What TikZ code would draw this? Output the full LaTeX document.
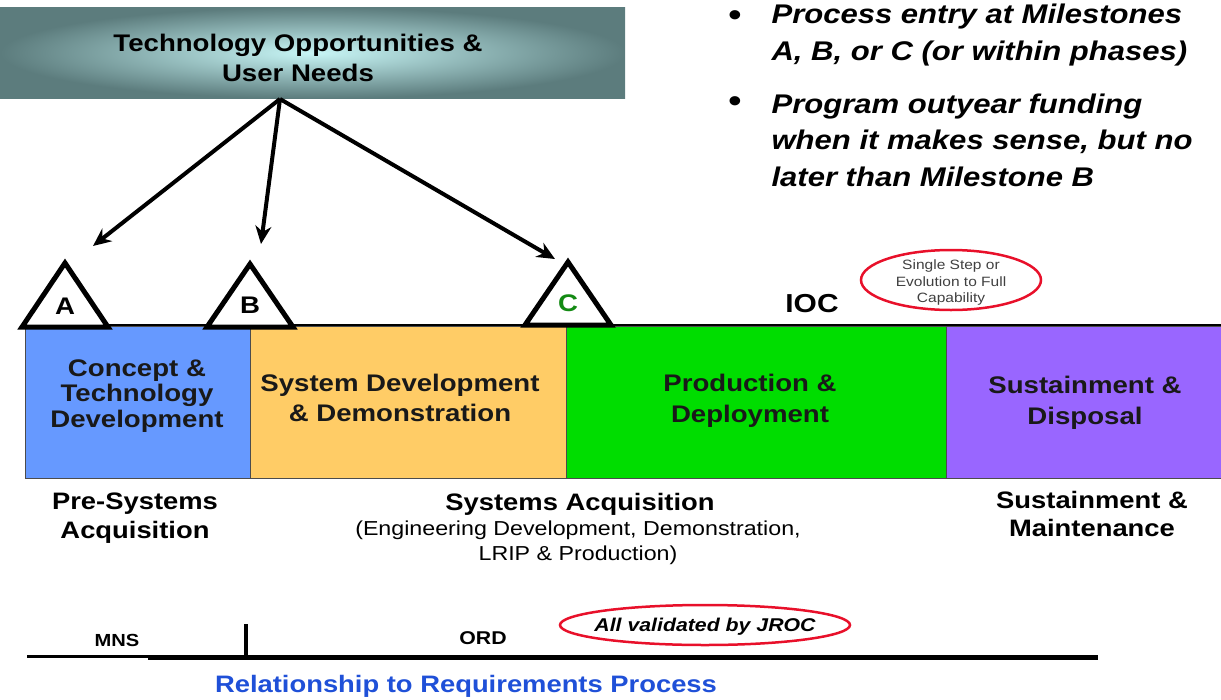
\documentclass[tikz,border=0pt]{standalone}
\usepackage{fontspec}
\setmainfont[FakeStretch=1.15]{Liberation Sans}
\usetikzlibrary{arrows.meta,shapes.geometric}
\definecolor{phblue}{HTML}{6699FF}
\definecolor{phorange}{HTML}{FFCC66}
\definecolor{phgreen}{HTML}{00DD00}
\definecolor{phpurple}{HTML}{9966FF}
\definecolor{boxdark}{HTML}{5C7C7D}
\definecolor{boxlight}{HTML}{C8F6F6}
\definecolor{relblue}{HTML}{1F50D8}
\definecolor{cgreen}{HTML}{138A13}
\definecolor{ovalred}{HTML}{E8102A}
\tikzset{
  phase/.style={draw=black!70, line width=0.8pt, anchor=north west, inner sep=0pt},
  phtext/.style={font=\fontsize{24}{30.5}\selectfont\bfseries, align=center, text=black!90},
  lbl/.style={font=\fontsize{23.8}{28.5}\selectfont\bfseries, align=center},
  tri/.style={draw=black, fill=white, line width=5pt, line join=miter},
  mil/.style={font=\fontsize{24}{24}\selectfont\bfseries},
  bigarrow/.style={line width=4pt, -{Stealth[length=18pt,width=16pt]}},
  redoval/.style={ellipse, draw=ovalred, line width=2.5pt, inner sep=0pt},
  bullettext/.style={font=\fontsize{27}{36.5}\selectfont\bfseries\itshape, align=left, anchor=west},
  bulletdot/.style={font=\fontsize{34}{34}\selectfont}
}
\begin{document}
\begin{tikzpicture}[x=1pt,y=-1pt]
\useasboundingbox (0,0) rectangle (1221,699);
% top box
\node[anchor=north west, minimum width=625pt, minimum height=91pt, inner sep=0pt,
  inner color=boxlight, outer color=boxdark] (top) at (0,7) {};
\node[font=\fontsize{24}{30}\selectfont\bfseries, align=center] (toptext) at (298,58)
  {Technology Opportunities \&\\User Needs};
\coordinate (src) at (280,99);
% bullets
\node[bulletdot] (d1) at (735,19) {\textbullet};
\node[bullettext] (b1) at (768,35) {Process entry at Milestones\\A, B, or C (or within phases)};
\node[bulletdot] (d2) at (735,105) {\textbullet};
\node[bullettext] (b2) at (768,140) {Program outyear funding\\when it makes sense, but no\\later than Milestone B};
% phases
\node[phase, fill=phblue, minimum width=225pt, minimum height=152pt] (p1) at (25,326) {};
\node[phase, fill=phorange, minimum width=316pt, minimum height=152pt] (p2) at (250,326) {};
\node[phase, fill=phgreen, minimum width=380pt, minimum height=152pt] (p3) at (566,326) {};
\node[phase, fill=phpurple, minimum width=275pt, minimum height=152pt] (p4) at (946,326) {};
\node[phtext, font=\fontsize{24}{25.5}\selectfont\bfseries] (t1) at (137,396) {Concept \&\\Technology\\Development};
\node[phtext] (t2) at (400,398) {System Development\\\& Demonstration};
\node[phtext] (t3) at (750,401) {Production \&\\Deployment};
\node[phtext] (t4) at (1085,403) {Sustainment \&\\Disposal};
\coordinate (barL) at (22,325);
\coordinate (barR) at (1221,325);
\draw[line width=2pt] (barL) -- (barR);
% milestones
\draw[tri] (22,327) -- (65,263) -- (108,327) -- cycle;
\draw[tri] (207,327) -- (250,264) -- (293,327) -- cycle;
\draw[tri] (525,325) -- (568,262) -- (611,325) -- cycle;
\node[mil] (A) at (65,306) {A};
\node[mil] (B) at (250,305) {B};
\node[mil, text=cgreen] (C) at (568,303) {C};
\coordinate (tA) at (93,246);
\coordinate (tB) at (261,244);
\coordinate (tC) at (555,259);
\draw[bigarrow] (src) -- (tA);
\draw[bigarrow] (src) -- (tB);
\draw[bigarrow] (src) -- (tC);
\node[font=\fontsize{26}{26}\selectfont\bfseries] (ioc) at (812,304) {IOC};
\node[redoval, minimum width=180pt, minimum height=60pt] (ov1) at (951,280) {};
\node[font=\fontsize{13.5}{16.5}\selectfont, align=center, text=black!75] (ov1t) at (951,283)
  {Single Step or\\Evolution to Full\\Capability};
% lower labels
\node[lbl] (l1) at (135,518) {Pre-Systems\\Acquisition};
\node[lbl] (l2) at (580,504) {Systems Acquisition};
\node[font=\fontsize{20.2}{25}\selectfont, align=center] (l2b) at (578,543)
  {(Engineering Development, Demonstration,\\LRIP \& Production)};
\node[lbl, font=\fontsize{23.8}{28}\selectfont\bfseries] (l3) at (1092,514) {Sustainment \&\\Maintenance};
% requirements line
\coordinate (r0) at (27,656);
\coordinate (r1) at (148,656);
\coordinate (r2) at (1098,657);
\coordinate (tk0) at (246,624);
\coordinate (tk1) at (246,657);
\draw[line width=3pt] (r0) -- (r1);
\draw[line width=5pt] (r1 |- r2) -- (r2);
\draw[line width=3.5pt] (tk0) -- (tk1);
\node[font=\fontsize{17.5}{17.5}\selectfont\bfseries] (mns) at (117,640) {MNS};
\node[font=\fontsize{18.5}{18.5}\selectfont\bfseries] (ord) at (483,638) {ORD};
\node[redoval, minimum width=290pt, minimum height=40pt] (ov2) at (705,625) {};
\node[font=\fontsize{18.5}{18.5}\selectfont\bfseries\itshape] (ov2t) at (705,627) {All validated by JROC};
\node[font=\fontsize{23.8}{23.8}\selectfont\bfseries, text=relblue] (rel) at (466,686) {Relationship to Requirements Process};
\end{tikzpicture}
\end{document}
